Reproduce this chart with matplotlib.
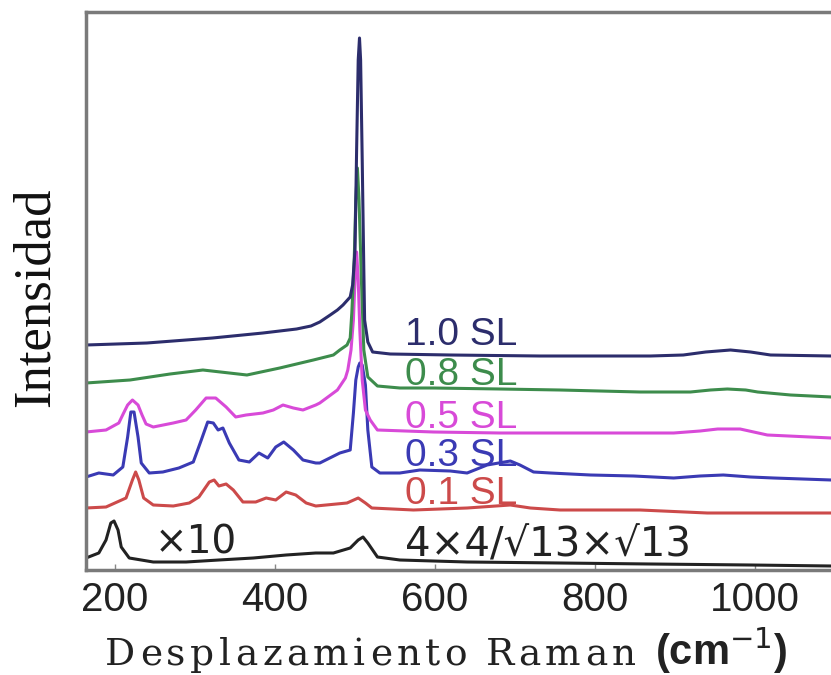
import matplotlib
matplotlib.use("Agg")
import matplotlib.pyplot as plt

# Raman shift (cm-1) and stacked intensity (a.u., already offset) per coverage
x_10 = [164, 240, 322, 385, 427, 445, 456, 469, 478, 485, 494, 497, 500, 502, 504, 505.6, 507, 509, 511, 512,
        516, 522, 544, 619, 731, 806, 869, 910, 938, 969, 994, 1019, 1095]
y_10 = [225, 227, 232, 237, 241, 244, 248, 255, 260, 265, 273, 285, 320, 420, 510, 532, 510, 410, 300, 250,
        228, 218, 216, 215, 214, 214, 214, 215, 218, 220, 218, 215, 214]

x_08 = [164, 219, 269, 310, 365, 406, 448, 473, 481, 490, 494, 496, 499, 501, 503, 505, 508, 511, 516, 528,
        556, 598, 681, 756, 856, 919, 944, 965, 988, 1003, 1044, 1095]
y_08 = [187, 190, 196, 200, 195, 202, 210, 215, 220, 225, 232, 257, 310, 370, 402, 370, 290, 220, 193, 184,
        182, 182, 181, 180, 178, 178, 180, 181, 180, 178, 175, 173]

x_05 = [164, 189, 205, 211, 216, 222, 229, 234, 239, 248, 273, 289, 301, 314, 326, 339, 351, 364, 385, 398,
        410, 423, 435, 451, 456, 478, 488, 491, 495, 498, 500, 502, 504, 506, 509, 513, 519, 528, 598, 681,
        756, 856, 898, 931, 953, 981, 1015, 1095]
y_05 = [138, 140, 147, 157, 165, 170, 165, 155, 146, 143, 147, 150, 160, 172, 172, 163, 153, 155, 157, 160,
        165, 162, 160, 165, 167, 180, 192, 200, 220, 250, 290, 318, 290, 240, 190, 160, 150, 140, 138, 137,
        137, 137, 137, 139, 141, 141, 135, 132]

x_03 = [164, 180, 198, 210, 216, 220, 224, 229, 233, 243, 260, 280, 298, 308, 316, 323, 329, 335, 343, 355,
        368, 380, 391, 401, 411, 423, 435, 451, 456, 481, 494, 498, 501, 504, 506, 509, 513, 516, 521, 531,
        556, 581, 619, 640, 665, 694, 706, 723, 744, 794, 848, 898, 931, 960, 994, 1023, 1095]
y_03 = [93, 97, 95, 103, 133, 158, 158, 133, 107, 97, 98, 102, 108, 130, 148, 147, 140, 142, 127, 110,
        108, 117, 112, 123, 128, 120, 110, 107, 107, 117, 120, 157, 190, 203, 207, 205, 185, 140, 103, 97,
        97, 100, 99, 97, 105, 109, 105, 98, 97, 95, 94, 92, 94, 95, 93, 92, 90]

x_01 = [164, 189, 214, 222, 226, 230, 236, 248, 273, 293, 305, 318, 324, 330, 339, 348, 360, 376, 389, 401,
        414, 426, 439, 451, 490, 504, 513, 521, 573, 640, 694, 719, 756, 856, 940, 1095]
y_01 = [62, 63, 72, 90, 98, 90, 72, 65, 64, 67, 73, 88, 90, 84, 86, 80, 68, 68, 72, 70,
        78, 75, 67, 64, 67, 72, 67, 62, 60, 62, 65, 62, 60, 60, 57, 57]

# 4x4/sqrt13 reference, scaled x10
x_ref = [164, 180, 189, 195, 199, 204, 208, 218, 248, 289, 330, 373, 414, 451, 473, 494, 504, 510, 516, 528,
         556, 640, 756, 869, 994, 1095]
y_ref = [12, 17, 30, 47, 49, 40, 23, 12, 8, 8, 10, 12, 15, 17, 17, 22, 30, 33, 27, 13,
         10, 8, 7, 6, 5, 4]

series = [
    (x_ref, y_ref, "#222222"),
    (x_01, y_01, "#cc4a4a"),
    (x_03, y_03, "#3a3ab4"),
    (x_05, y_05, "#d84ad8"),
    (x_08, y_08, "#3d8c4c"),
    (x_10, y_10, "#2c2d6c"),
]

labels = [
    ("1.0 SL", 235, "#2c2d6c"),
    ("0.8 SL", 195, "#3d8c4c"),
    ("0.5 SL", 152, "#d84ad8"),
    ("0.3 SL", 114, "#3a3ab4"),
    ("0.1 SL", 76, "#cc4a4a"),
]

sans = ["Liberation Sans", "DejaVu Sans"]
W, H = 831, 675

fig = plt.figure(figsize=(W / 100, H / 100), dpi=100)
ax = fig.add_axes([86 / W, 1 - 570 / H, (845 - 86) / W, (570 - 12) / H])

for xs, ys, c in series:
    ax.plot(xs, ys, color=c, lw=2.2, solid_joinstyle="round")

for txt, yv, c in labels:
    ax.text(563, yv, txt, color=c, fontsize=28, family=sans, va="center", ha="left")
ax.text(563, 25, "4×4/√13×√13", color="#222222", fontsize=29, family="DejaVu Sans",
        va="center", ha="left")
ax.text(250, 27, "×10", color="#222222", fontsize=28, family="DejaVu Sans", va="center", ha="left")

ax.set_xlim(164, 1112)
ax.set_ylim(0, 558)
ax.set_yticks([])
ax.set_xticks([200, 400, 600, 800, 1000])
ax.tick_params(axis="x", direction="in", length=4, width=1, color="#888888",
               labelsize=29, pad=8)
for lab in ax.get_xticklabels():
    lab.set_family(sans)
    lab.set_color("#222222")

for side in ["left", "top", "bottom"]:
    ax.spines[side].set_color("#7a7a7a")
    ax.spines[side].set_linewidth(2.5)
ax.spines["right"].set_visible(False)

fig.text(36 / W, 1 - 297 / H, "Intensidad", family="Liberation Serif", fontsize=38,
         color="#111111", rotation=90, ha="center", va="center")

# x label: letter-spaced serif words, then the bold sans unit
renderer = fig.canvas.get_renderer()
xpos = 105
base = 1 - 665 / H
for ch in "Desplazamiento Raman":
    if ch == " ":
        xpos += 14
        continue
    t = fig.text(xpos / W, base, ch, family="DejaVu Serif", fontsize=27,
                 color="#222222", ha="left", va="baseline")
    xpos += t.get_window_extent(renderer).width + 4.5
fig.text(655 / W, base, "(cm$^{-1}$)", family=sans, fontsize=30, color="#222222",
         ha="left", va="baseline", fontweight="bold")

fig.savefig("out.png", dpi=100)
